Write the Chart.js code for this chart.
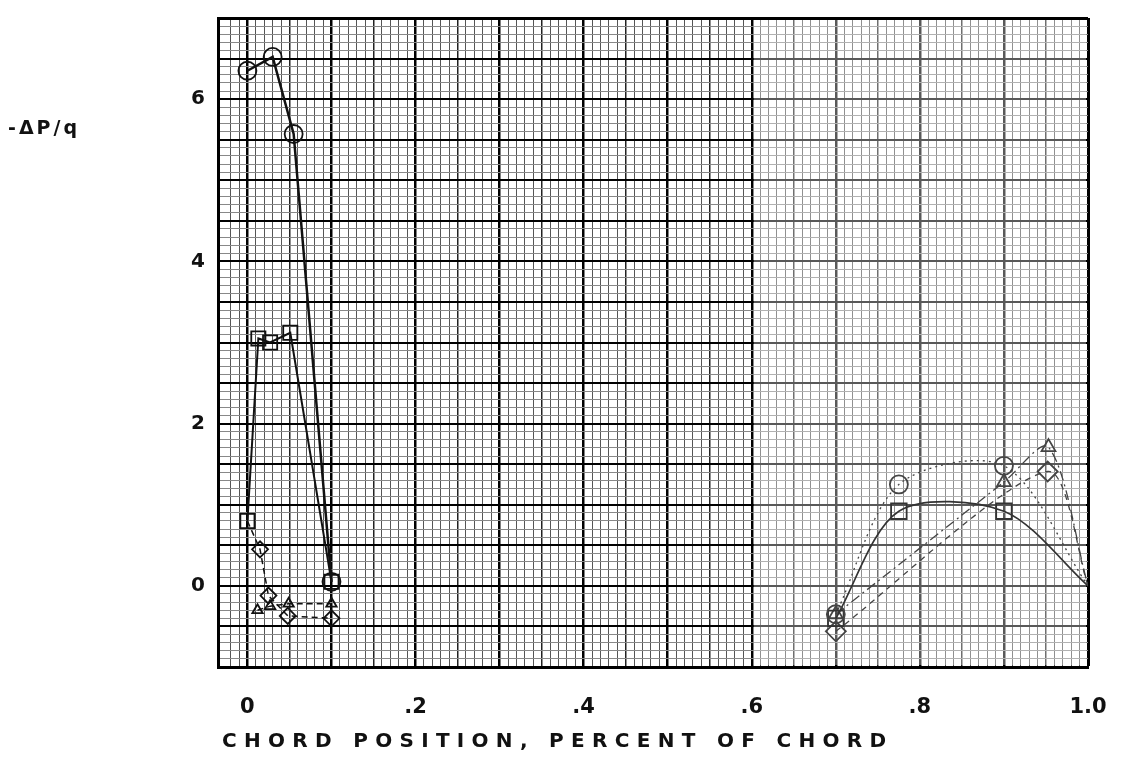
<!DOCTYPE html>
<html>
<head>
<meta charset="utf-8">
<script src="https://cdn.jsdelivr.net/npm/chart.js@4.4.0/dist/chart.umd.min.js"></script>
<style>
  html, body { margin: 0; padding: 0; background: #fff; }
  #wrap { position: relative; width: 1135px; height: 773px; }
  #yTitle { position: absolute; left: 8px; top: 116px; font: bold 19px "DejaVu Sans", sans-serif; letter-spacing: 3px; color: #111; }
  #xTitle { position: absolute; left: 222px; top: 728px; font: bold 20px "DejaVu Sans", sans-serif; letter-spacing: 7.3px; color: #111; white-space: nowrap; }
</style>
</head>
<body>
<div id="wrap">
  <canvas id="chart" width="1135" height="773"></canvas>
  <div id="yTitle">-ΔP/q</div>
  <div id="xTitle">CHORD POSITION, PERCENT OF CHORD</div>
</div>
<script>
// leading edge points [x, -dP/q]
const circleLead = [[0, 6.35], [0.03, 6.52], [0.055, 5.57], [0.1, 0.05]];
const squareLead = [[0, 0.8], [0.013, 3.05], [0.027, 3.0], [0.051, 3.12], [0.1, 0.05]];
const triangleLead = [[0.012, -0.3], [0.027, -0.25], [0.049, -0.22], [0.1, -0.22]];
const diamondLead = [[0, 0.8], [0.015, 0.45], [0.025, -0.12], [0.048, -0.37], [0.1, -0.4]];

// trailing edge points
const circleTrail = [[0.7, -0.35], [0.775, 1.25], [0.9, 1.48], [1.0, 0]];
const squareTrail = [[0.7, -0.4], [0.775, 0.92], [0.9, 0.92], [1.0, 0]];
const triangleTrail = [[0.7, -0.35], [0.9, 1.28], [0.953, 1.71], [1.0, 0]];
const diamondTrail = [[0.7, -0.56], [0.952, 1.41], [1.0, 0]];

const xTickLabels = ["0", ".2", ".4", ".6", ".8", "1.0"];
const yTickLabels = ["0", "2", "4", "6"];

const toXY = arr => arr.map(p => ({ x: p[0], y: p[1] }));

// no marker on the shared start point or at the trailing edge
const hideEnds = ctx => {
    const raw = ctx.raw;
    if (!raw) return 9;
    if (raw.x === 1.0) return 0;
    if (ctx.dataset.hideFirst && ctx.dataIndex === 0) return 0;
    return ctx.dataset.markSize;
};

function series(data, style, size, color, width, dash, tension, hideFirst) {
    return {
        data: toXY(data),
        pointStyle: style,
        markSize: size,
        hideFirst: hideFirst,
        pointRadius: hideEnds,
        pointBorderWidth: 1.8,
        pointBorderColor: color,
        pointBackgroundColor: "rgba(0,0,0,0)",
        borderColor: color,
        borderWidth: width,
        borderDash: dash,
        tension: tension,
        fill: false,
    };
}

// lighter scan on the right part of the sheet
const fadePlugin = {
    id: "fade",
    beforeDatasetsDraw(chart) {
        const { ctx, chartArea, scales } = chart;
        const x0 = scales.x.getPixelForValue(0.6) + 2;
        ctx.save();
        ctx.fillStyle = "rgba(255,255,255,0.35)";
        ctx.fillRect(x0, chartArea.top + 2, chartArea.right - x0 - 2, chartArea.bottom - chartArea.top - 4);
        ctx.restore();
    },
};

const chartCtx = document.getElementById("chart");
new Chart(chartCtx.getContext("2d"), {
    type: "line",
    data: {
        datasets: [
            series(circleLead, "circle", 9, "#111", 2.5, [], 0, false),
            series(squareLead, "rect", 10, "#111", 2, [], 0, false),
            series(triangleLead, "triangle", 6, "#111", 1.5, [6, 4], 0, false),
            series(diamondLead, "rectRot", 8, "#111", 1.5, [6, 4], 0, true),
            series(circleTrail, "circle", 9, "#444", 1.3, [2, 4], 0.3, false),
            series(squareTrail, "rect", 11, "#333", 1.6, [], 0.3, false),
            series(triangleTrail, "triangle", 8, "#444", 1.3, [10, 4, 2, 4], 0.3, false),
            series(diamondTrail, "rectRot", 10, "#444", 1.3, [6, 5], 0.25, false),
        ],
    },
    options: {
        responsive: false,
        animation: false,
        layout: { padding: { top: 18, right: 47, left: 0, bottom: 0 } },
        plugins: {
            legend: { display: false },
            tooltip: { enabled: false },
        },
        scales: {
            x: {
                type: "linear",
                min: -0.035,
                max: 1.0,
                afterFit: s => { s.height = 106; s.paddingLeft = 0; s.paddingRight = 0; },
                border: { display: true, color: "#000", width: 3 },
                grid: {
                    drawTicks: false,
                    color: c => {
                        const k = Math.round(c.tick.value * 100);
                        if (k % 10 === 0 || c.tick.value >= 1) return "#000";
                        if (k % 5 === 0) return "#222";
                        return "#555";
                    },
                    lineWidth: c => {
                        const k = Math.round(c.tick.value * 100);
                        if (c.tick.value >= 1) return 3;
                        if (k % 10 === 0) return 2.5;
                        if (k % 5 === 0) return 1.5;
                        return 1;
                    },
                },
                ticks: {
                    stepSize: 0.01,
                    autoSkip: false,
                    maxRotation: 0,
                    padding: 28,
                    color: "#111",
                    font: { family: "DejaVu Sans", size: 21, weight: "bold" },
                    callback: v => {
                        const k = Math.round(v * 100);
                        if (v < 0 || k % 20 !== 0) return "";
                        return xTickLabels[k / 20];
                    },
                },
            },
            y: {
                type: "linear",
                min: -1,
                max: 7,
                afterFit: s => { s.width = 218; s.paddingTop = 0; s.paddingBottom = 0; },
                border: { display: true, color: "#000", width: 3 },
                grid: {
                    drawTicks: false,
                    color: c => {
                        const k = Math.round(c.tick.value * 10);
                        return (k % 5 === 0) ? "#000" : "#888";
                    },
                    lineWidth: c => {
                        const k = Math.round(c.tick.value * 10);
                        if (c.tick.value >= 7) return 3;
                        return (k % 5 === 0) ? 2 : 1;
                    },
                },
                ticks: {
                    stepSize: 0.1,
                    autoSkip: false,
                    padding: 13,
                    color: "#111",
                    font: { family: "DejaVu Sans", size: 20, weight: "bold" },
                    callback: v => {
                        const k = Math.round(v * 10);
                        if (v < 0 || k % 20 !== 0) return "";
                        return yTickLabels[k / 20];
                    },
                },
            },
        },
    },
    plugins: [fadePlugin],
});
</script>
</body>
</html>
